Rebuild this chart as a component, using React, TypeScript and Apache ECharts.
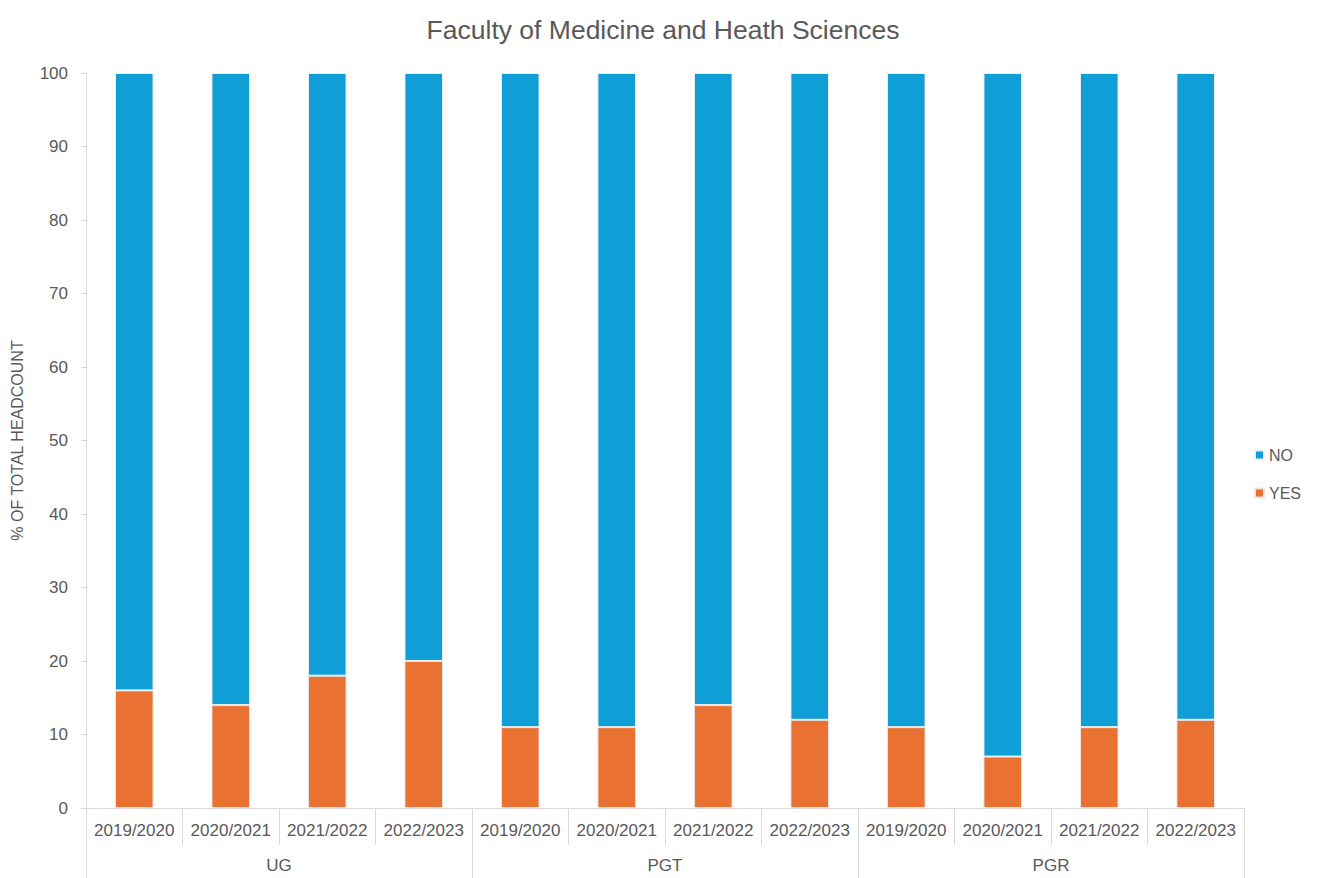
import React, { useEffect, useRef } from "react";
import * as echarts from "echarts";

const years = [
  "2019/2020", "2020/2021", "2021/2022", "2022/2023",
  "2019/2020", "2020/2021", "2021/2022", "2022/2023",
  "2019/2020", "2020/2021", "2021/2022", "2022/2023",
];
const groups = ["UG", "PGT", "PGR"];
const yesValues = [16, 14, 18, 20, 11, 11, 14, 12, 11, 7, 11, 12];
const noValues = [84, 86, 82, 80, 89, 89, 86, 88, 89, 93, 89, 88];

export default function App() {
  const ref = useRef<HTMLDivElement>(null);
  useEffect(() => {
    document.body.style.margin = "0";
    const chart = echarts.init(ref.current!, null, { renderer: "svg" });
    const font = "Liberation Sans, Arial, sans-serif";
    const textColor = "#595959";
    const lineColor = "#d9d9d9";
    chart.setOption({
      animation: false,
      backgroundColor: "#ffffff",
      title: {
        text: "Faculty of Medicine and Heath Sciences",
        left: "center",
        top: 11,
        textStyle: { fontFamily: font, fontSize: 26.5, fontWeight: "normal", color: textColor },
      },
      legend: {
        orient: "vertical",
        left: 1249,
        top: 442,
        itemWidth: 9,
        itemHeight: 9,
        itemGap: 22,
        icon: "rect",
        data: ["NO", "YES"],
        textStyle: { fontFamily: font, fontSize: 16, color: textColor },
      },
      grid: { left: 86, right: 82, top: 73, bottom: 70, containLabel: false, outerBoundsMode: "none" },
      xAxis: [
        {
          type: "category",
          data: years,
          position: "bottom",
          axisLine: { show: true, lineStyle: { color: lineColor, width: 1 } },
          axisTick: { show: true, interval: 0, length: 37, lineStyle: { color: lineColor } },
          axisLabel: { interval: 0, margin: 14, fontFamily: font, fontSize: 17, color: textColor },
        },
        {
          type: "category",
          data: groups,
          position: "bottom",
          axisLine: { show: false },
          axisTick: { show: true, interval: 0, length: 72, lineStyle: { color: lineColor } },
          axisLabel: { interval: 0, margin: 49, fontFamily: font, fontSize: 17, color: textColor },
        },
      ],
      yAxis: {
        type: "value",
        min: 0,
        max: 100,
        interval: 10,
        name: "% OF TOTAL HEADCOUNT",
        nameLocation: "middle",
        nameGap: 61,
        nameTextStyle: { fontFamily: font, fontSize: 16, color: textColor },
        axisLine: { show: true, lineStyle: { color: lineColor } },
        axisTick: { show: true, length: 5, lineStyle: { color: lineColor } },
        axisLabel: { margin: 18, fontFamily: font, fontSize: 17, color: textColor },
        splitLine: { show: false },
      },
      series: [
        {
          name: "YES",
          type: "bar",
          stack: "total",
          xAxisIndex: 0,
          barWidth: "40%",
          data: yesValues,
          itemStyle: { color: "#E97132", borderColor: "#e6e6e6", borderWidth: 1 },
        },
        {
          name: "NO",
          type: "bar",
          stack: "total",
          xAxisIndex: 0,
          barWidth: "40%",
          data: noValues,
          itemStyle: { color: "#0F9ED5", borderColor: "#f0f0f0", borderWidth: 1 },
        },
      ],
    });
    return () => chart.dispose();
  }, []);
  return <div ref={ref} style={{ width: 1326, height: 878 }} />;
}
